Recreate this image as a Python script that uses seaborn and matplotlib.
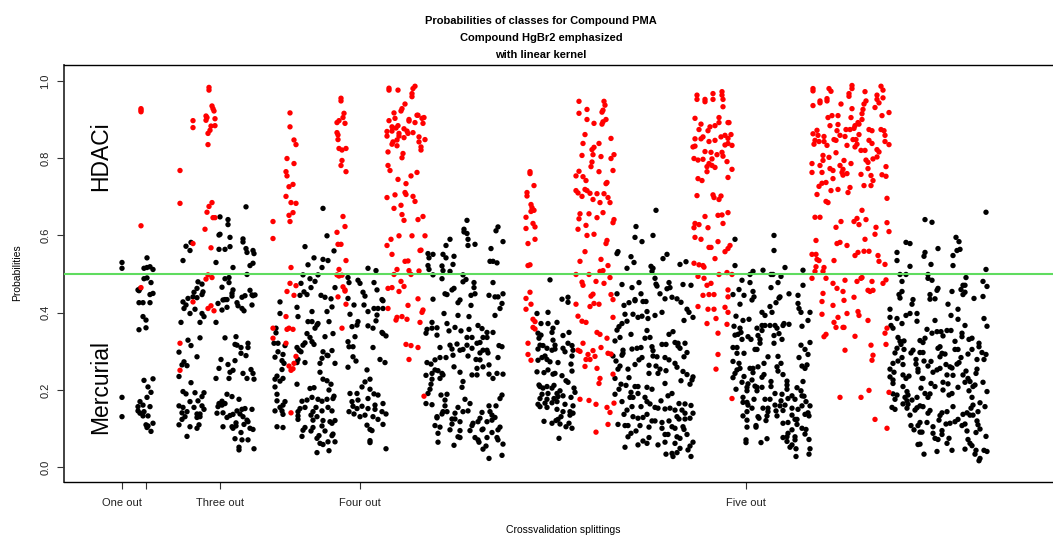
import pandas as pd
import matplotlib
matplotlib.use("Agg")
import matplotlib.pyplot as plt
import seaborn as sns

# jitter position along the split axis, probability
# one and two out
black_one_two = [(122,.530),(122,.515),(122,.181),(122,.131),(147,.542),(144,.515),(147,.517),(150,.519),(153,.512),(144,.488),(147,.490),(151,.478),(138,.459),(140,.462),(150,.447),(153,.450),(139,.457),(139,.426),(143,.426),(150,.426),(143,.390),(146,.381),(139,.356),(146,.361),(144,.225),(153,.229),(148,.208),(151,.194),(147,.181),(140,.170),(138,.157),(143,.161),(150,.157),(138,.146),(144,.144),(140,.140),(143,.133),(148,.133),(146,.110),(148,.107),(153,.114),(147,.103),(151,.093)]
red_one_two = [(141,.928),(141,.924),(141,.920),(141,.625),(141,.465)]

# three out
red_three = [(180,.768),(180,.683),(193,.897),(193,.879),(209,.983),(209,.976),(212,.935),(213,.928),(214,.922),(206,.909),(207,.905),(206,.898),(215,.902),(211,.883),(215,.884),(210,.872),(208,.864),(208,.835),(212,.685),(209,.675),(207,.660),(213,.646),(215,.646),(205,.616),(211,.568),(193,.579),(208,.498),(206,.487),(212,.491),(180,.321),(180,.251),(193,.428),(208,.411),(211,.418),(214,.405)]
black_three = [(183,.535),(186,.572),(190,.561),(191,.582),(220,.648),(228,.641),(228,.628),(220,.603),(219,.601),(230,.595),(243,.591),(243,.583),(246,.674),(230,.571),(219,.564),(225,.564),(246,.566),(247,.556),(253,.561),(254,.553),(216,.530),(253,.528),(250,.522),(233,.517),(247,.499),(225,.488),(229,.491),(229,.478),(222,.466),(233,.459),(232,.450),(232,.443),(250,.458),(245,.444),(242,.440),(253,.444),(225,.434),(198,.480),(202,.474),(197,.463),(194,.453),(203,.454),(202,.447),(193,.441),(197,.439),(188,.437),
    (183,.428),(186,.420),(184,.411),(195,.409),(190,.398),(202,.398),(204,.390),(181,.375),(200,.375),(216,.375),(218,.424),(223,.433),(227,.434),(222,.407),(227,.414),(237,.426),(238,.418),(242,.411),(244,.405),(252,.420),(252,.446),(255,.446),
    (188,.329),(191,.315),(200,.335),(179,.298),(197,.286),(184,.273),(182,.265),(187,.263),(179,.235),(191,.219),(183,.196),(186,.190),(195,.193),(204,.193),(190,.170),(202,.183),(198,.172),(179,.159),(183,.155),(194,.155),(202,.159),(204,.150),(182,.141),(187,.144),(197,.138),(200,.138),(185,.131),(182,.124),(197,.129),(200,.131),(179,.110),(190,.105),(199,.110),(197,.101),(187,.080),
    (225,.335),(236,.338),(235,.318),(237,.316),(248,.321),(241,.310),(248,.310),(241,.295),(246,.289),(221,.279),(235,.276),(228,.266),(219,.256),(251,.253),(233,.251),(230,.246),(243,.243),(253,.243),(216,.230),(229,.230),(247,.230),(254,.228),(227,.189),(232,.183),(239,.176),(222,.171),(219,.165),(225,.165),(218,.157),(222,.161),(245,.152),(242,.150),(252,.150),(237,.146),(217,.140),(223,.141),(233,.137),(230,.134),(227,.129),(240,.138),(243,.131),(247,.122),(248,.118),(244,.111),(236,.115),(223,.105),(232,.105),(236,.107),(233,.101),(241,.090),(250,.101),(253,.098),(235,.074),(242,.071),(248,.071),(239,.052),(239,.045),(254,.048)]

# four out
red_four = [(273,.636),(273,.592),(290,.917),(290,.881),(294,.847),(296,.835),(287,.799),(294,.786),(286,.765),(287,.754),(293,.732),(289,.726),(286,.701),(291,.685),(296,.683),(293,.659),(289,.652),(290,.636),(291,.517),(290,.476),(296,.470),(287,.455),(294,.445),
    (341,.955),(341,.948),(344,.916),(343,.905),(339,.897),(337,.892),(345,.890),(337,.866),(338,.860),(338,.848),(339,.825),(342,.821),(346,.825),(342,.794),(341,.781),(346,.765),(343,.649),(345,.623),(337,.608),(338,.577),(341,.577),(346,.535),(339,.512),(337,.498),(339,.495),(342,.497),(343,.467),(345,.459),(338,.441),
    (345,.456),(346,.422),(286,.390),(273,.360),(287,.357),(289,.360),(293,.357),(273,.334),(286,.321),(342,.360),(296,.287),(289,.262),(294,.269),(293,.255),(291,.251),(291,.141),
    (389,.981),(389,.976),(398,.976),(415,.986),(413,.980),(412,.967),(412,.959),(405,.940),(402,.928),(401,.922),(394,.917),(417,.911),(395,.903),(389,.897),(409,.900),(409,.896),(415,.892),(398,.884),(392,.881),(396,.878),(404,.876),(387,.869),(392,.870),(407,.870),(413,.866),(408,.864),(399,.864),(387,.857),(399,.857),(404,.853),(419,.855),(397,.847),(393,.842),(392,.836),(397,.832),(419,.842),(388,.816),(403,.812),(402,.801),(388,.781),(390,.768),(417,.763),(411,.754),(398,.745),(406,.734),(395,.705),(405,.711),(406,.706),(387,.698),(413,.701),(415,.688),(401,.678),(394,.670),(402,.654),(404,.639),(418,.641),(399,.599),(412,.599),(391,.590),(387,.574),(420,.561),(392,.551),(405,.533),(408,.534),(397,.512),(409,.509),(419,.508),(394,.499),(411,.499),(401,.481),(404,.468),(388,.463),(392,.465),(399,.455),
    (422,.903),(424,.905),(423,.890),(418,.911),(425,.848),(421,.829),(421,.821),(423,.649),(421,.562),(425,.599),(388,.411),(408,.419),(396,.381),(397,.388),(402,.390),(407,.383),(420,.375),(406,.318),(411,.315),(418,.310),(409,.279),(418,.436),(423,.407),(422,.401),(424,.184)]
black_four = [(323,.670),(327,.599),(305,.571),(334,.560),(314,.542),(323,.538),(328,.535),(308,.524),(322,.517),(318,.498),(303,.498),(310,.488),(315,.481),(301,.476),(368,.515),(376,.509),(348,.491),(349,.478),(358,.484),(360,.476),(374,.478),(335,.465),(311,.465),(304,.454),(307,.447),(300,.445),(321,.445),(325,.440),(363,.453),(365,.443),(377,.459),(348,.437),(331,.436),(382,.434),
    (280,.428),(297,.414),(280,.398),(298,.390),(312,.403),(327,.403),(332,.415),(354,.420),(364,.420),(350,.396),(368,.403),(374,.411),(378,.411),(383,.411),(383,.431),(377,.394),(376,.379),(308,.377),(312,.377),(329,.377),(317,.368),(318,.372),(315,.360),(352,.364),(358,.377),(357,.368),(368,.366),(373,.360),(276,.360),(276,.348),(307,.346),(325,.338),(333,.346),(310,.336),(312,.325),(314,.318),(355,.338),(382,.349),(383,.346),(386,.340),(348,.325),(349,.312),(353,.312),(373,.310),(274,.321),(278,.321),(285,.315),(305,.322),(303,.316),(297,.310),(299,.303),(301,.299),(278,.299),(283,.292),(275,.285),(323,.299),(327,.290),(332,.302),(328,.289),(322,.282),(282,.276),(284,.269),(298,.279),(297,.271),(305,.271),(320,.269),(335,.269),(353,.286),(356,.275),(380,.279),(385,.271),(348,.259),(367,.252),(282,.253),(320,.246),(277,.236),(275,.228),(283,.230),(280,.223),(323,.228),(327,.224),(370,.228),(365,.221),(297,.215),(331,.215),(275,.208),(362,.208),(310,.204),(314,.206),(329,.200),(370,.202),
    (277,.189),(350,.191),(357,.191),(374,.190),(378,.187),(334,.184),(333,.178),(277,.172),(302,.171),(307,.174),(312,.181),(318,.176),(322,.171),(327,.176),(352,.170),(358,.174),(368,.178),(285,.170),(283,.161),(383,.165),(375,.161),(353,.158),(357,.152),(280,.155),(300,.152),(305,.155),(316,.155),(328,.155),(362,.158),(368,.152),(275,.146),(282,.146),(298,.144),(313,.144),(322,.146),(332,.146),(349,.144),(354,.138),(375,.150),(382,.144),(386,.138),(283,.137),(298,.133),(311,.135),(317,.131),(360,.131),(365,.135),(373,.131),(298,.124),(313,.122),(323,.121),(330,.118),(335,.121),(378,.124),(383,.111),(277,.105),(283,.103),(305,.103),(322,.107),(332,.114),(367,.109),(370,.098),(303,.096),(311,.094),(325,.094),(372,.095),(333,.086),(313,.103),(302,.080),(319,.082),(317,.075),(332,.082),(370,.069),(370,.064),(328,.066),(335,.066),(320,.062),(323,.059),(386,.048),(329,.043),(317,.038),
    (467,.639),(464,.616),(464,.609),(467,.605),(468,.590),(468,.574),(475,.577),(450,.590),(446,.574),(428,.553),(433,.551),(429,.542),(443,.551),(446,.542),(454,.546),(428,.522),(429,.512),(442,.521),(453,.525),(443,.509),(450,.507),(433,.498),(463,.498),(442,.488),(466,.486),(463,.480),(474,.478),(474,.465),(445,.449),(447,.447),(454,.463),(452,.459),(475,.449),(471,.445),(498,.622),(496,.612),(503,.584),(491,.566),(490,.533),(493,.533),(497,.529),(493,.478),(489,.445),(495,.441),(498,.441),(503,.449),
    (433,.435),(460,.433),(458,.426),(502,.424),(500,.411),(471,.419),(444,.398),(458,.393),(469,.390),(495,.393),(432,.375),(447,.372),(427,.357),(437,.361),(432,.360),(426,.347),(437,.342),(449,.353),(455,.362),(461,.353),(469,.357),(478,.367),(482,.359),(487,.349),(493,.349),(467,.336),(472,.336),(483,.336),(487,.336),(480,.323),(477,.321),(467,.316),(457,.319),(450,.316),(440,.310),(452,.306),(460,.303),(463,.305),(472,.308),(499,.315),(502,.312),(483,.303),(487,.303),(480,.296),(488,.296),(468,.288),(453,.290),(440,.284),(446,.284),(435,.278),(476,.279),(480,.278),(498,.284),(427,.271),(431,.267),(454,.260),(489,.265),(483,.260),(477,.256),(435,.252),(438,.250),(460,.246),(442,.243),(443,.239),(426,.238),(432,.243),(472,.239),(477,.239),(489,.241),(497,.243),(503,.241),(493,.230),(432,.228),(440,.230),(463,.222),(431,.215),(462,.207),(430,.202),(428,.191),(441,.187),(447,.189),(502,.187),(500,.178),(445,.174),(465,.176),(426,.165),(432,.162),(445,.159),(470,.165),(458,.155),(489,.159),(496,.159),(443,.144),(447,.144),(463,.144),(468,.146),(482,.142),(490,.144),(437,.131),(442,.138),(455,.140),(492,.135),(495,.129),(452,.125),(455,.125),(480,.127),(437,.128),(478,.118),(487,.118),(460,.118),(492,.122),(473,.114),(452,.112),(435,.108),(440,.104),(472,.108),(483,.099),(500,.104),(450,.097),(460,.095),(470,.095),(498,.097),(482,.097),(438,.088),(492,.090),(458,.079),(475,.077),(487,.077),(497,.077),(460,.077),(478,.071),(498,.071),(479,.065),(438,.065),(454,.057),(503,.060),(486,.055),(483,.047),(502,.031),(489,.023)]

# five out
red_five_a = [(530,.765),(530,.760),(534,.729),(527,.711),(527,.702),(531,.680),(532,.672),(534,.665),(531,.662),(526,.647),(533,.631),(535,.622),(526,.618),(535,.590),(528,.579),(530,.524),(528,.522),(530,.453),(526,.437),(531,.422),(526,.409),(533,.383),(535,.377),(533,.362),(535,.358),(528,.321),(528,.292),(531,.277),
    (579,.947),(604,.947),(605,.937),(603,.924),(602,.919),(579,.916),(587,.926),(587,.900),(594,.890),(602,.888),(603,.894),(606,.900),(585,.861),(611,.851),(583,.838),(599,.838),(594,.828),(592,.822),(593,.809),(582,.807),(601,.804),(614,.809),(611,.799),(592,.790),(591,.778),(613,.768),(599,.765),(579,.766),(576,.754),(583,.752),(586,.742),(607,.737),(606,.734),(576,.716),(578,.710),(585,.719),(587,.716),(590,.709),(597,.708),(604,.708),(582,.701),(608,.698),(593,.693),(600,.685),(610,.685),(580,.656),(589,.656),(603,.659),(579,.643),(597,.646),(614,.641),(613,.633),(586,.626),(578,.616),(587,.600),(594,.603),(607,.587),(606,.579),(585,.558),(601,.538),(580,.533),(608,.522),(603,.509),(600,.507),(576,.499),(589,.499),(610,.491),(582,.479),(583,.471),(596,.481),(604,.476),(593,.448),(591,.443),(611,.447),(613,.434),
    (576,.422),(590,.416),(594,.424),(599,.422),(578,.391),(582,.378),(586,.375),(613,.388),(597,.349),(600,.344),(607,.334),(583,.321),(601,.310),(578,.303),(580,.300),(588,.292),(593,.302),(595,.287),(608,.295),(611,.293),(586,.279),(590,.279),(585,.261),(597,.256),(613,.241),(600,.230),(599,.217),(580,.176),(589,.173),(596,.163),(614,.166),(607,.155),(610,.142),(608,.111),(596,.091)]
red_five_b = [(697,.963),(697,.952),(705,.952),(705,.946),(713,.967),(713,.952),(722,.972),(722,.963),(723,.952),(723,.933),(719,.905),(719,.892),(695,.903),(701,.888),(715,.884),(710,.881),(699,.874),(708,.871),(728,.892),(695,.850),(703,.855),(701,.850),(709,.843),(715,.846),(721,.855),(725,.859),(728,.851),(725,.834),(728,.838),(695,.831),(693,.829),(705,.817),(711,.815),(717,.809),(722,.815),(723,.805),(694,.799),(698,.795),(703,.797),(712,.798),(727,.791),(709,.786),(707,.778),(712,.781),(715,.776),(707,.765),(728,.750),(698,.747),(702,.742),(697,.703),(713,.705),(714,.698),(721,.702),(719,.693),(705,.649),(718,.652),(722,.653),(695,.631),(694,.620),(699,.628),(708,.620),(723,.631),(695,.595),(701,.590),(718,.584),(709,.569),(711,.569),(725,.558),(715,.540),(694,.528),(699,.524),(703,.522),(704,.518),(727,.504),(719,.499),(698,.494),(704,.489),(711,.476),(707,.471),(703,.445),(709,.447),(714,.447),
    (729,.892),(731,.861),(732,.833),(732,.771),(728,.659),(730,.574),(728,.566),(732,.499),(728,.459),(698,.416),(708,.409),(714,.409),(728,.441),(725,.414),(728,.401),(716,.385),(707,.372),(727,.370),(718,.347),(718,.292),(716,.254),(732,.178)]
red_five_c = [(813,.980),(813,.974),(829,.980),(831,.973),(852,.988),(852,.980),(881,.986),(883,.976),(865,.972),(849,.967),(849,.960),(877,.963),(827,.954),(827,.948),(820,.948),(820,.943),(883,.956),(877,.952),(879,.943),(866,.948),(864,.940),(813,.936),(841,.940),(875,.931),(852,.928),(863,.926),(862,.915),(889,.918),(882,.910),(828,.905),(832,.910),(838,.910),(851,.905),(862,.900),(858,.892),(855,.884),(830,.884),(838,.887),(859,.888),(817,.872),(813,.863),(818,.859),(837,.871),(846,.874),(850,.874),(854,.877),(869,.874),(872,.871),(881,.874),(884,.871),(824,.856),(840,.859),(845,.856),(859,.861),(885,.859),(815,.846),(819,.843),(824,.843),(834,.848),(836,.846),(853,.848),(856,.848),(869,.846),(885,.843),(814,.836),(827,.833),(847,.833),(855,.829),(857,.836),(872,.838),(889,.835),(861,.820),(865,.820),(836,.814),(877,.822),(879,.816),(823,.807),(829,.802),(877,.803),(873,.798),(823,.794),(844,.794),(866,.795),(868,.789),(812,.786),(820,.781),(851,.786),(840,.781),(886,.778),(868,.773),(830,.773),(833,.768),(843,.771),(822,.763),(812,.763),(842,.763),(843,.756),(847,.760),(861,.758),(871,.755),(882,.757),(886,.753),(833,.747),(873,.742),(826,.737),(822,.735),(819,.727),(864,.729),(871,.729),(850,.724),(831,.716),(838,.719),(848,.711),(817,.706),(887,.696),(826,.688),(828,.685),
    (862,.665),(815,.647),(820,.647),(857,.644),(866,.641),(841,.636),(854,.636),(859,.628),(887,.633),(836,.621),(876,.621),(889,.610),(875,.603),(865,.590),(816,.587),(840,.582),(837,.579),(847,.574),(858,.556),(855,.548),(864,.559),(869,.559),(812,.551),(816,.551),(878,.548),(817,.538),(819,.535),(834,.535),(879,.533),(885,.525),(816,.519),(824,.517),(815,.507),(823,.507),(812,.489),(826,.489),(862,.491),(861,.489),(845,.484),(857,.481),(872,.481),(886,.485),(883,.476),(833,.476),(837,.463),(843,.455),(868,.458),(870,.455),(873,.458),(823,.450),
    (822,.429),(844,.432),(854,.440),(833,.419),(822,.396),(847,.398),(858,.403),(859,.393),(838,.388),(868,.380),(834,.375),(836,.362),(843,.362),(844,.362),(826,.344),(824,.338),(855,.339),(871,.316),(886,.318),(885,.347),(887,.360),(845,.303),(873,.290),(872,.277),(869,.199),(840,.181),(861,.181),(889,.194),(875,.124),(887,.101)]
black_five_a = [(550,.485),(562,.435),(568,.440),(568,.427),(537,.398),(548,.401),(541,.372),(548,.372),(557,.375),(553,.360),(538,.347),(541,.342),(552,.349),(563,.341),(569,.349),(539,.334),(553,.329),(555,.316),(563,.308),(568,.321),(540,.316),(543,.315),(538,.306),(547,.308),(552,.303),(555,.306),(572,.315),(565,.299),(573,.303),(542,.284),(545,.288),(547,.279),(572,.288),(538,.277),(550,.273),(558,.271),(571,.267),(537,.247),(544,.245),(548,.252),(553,.241),(555,.243),(572,.249),(562,.237),(566,.224),(568,.220),(539,.213),(540,.209),(547,.209),(554,.212),(543,.205),(552,.205),(574,.205),(560,.198),(548,.191),(557,.191),(542,.189),(575,.194),(540,.178),(547,.176),(554,.178),(558,.183),(563,.185),(545,.166),(538,.163),(552,.167),(557,.170),(571,.181),(540,.157),(547,.155),(565,.163),(557,.150),(573,.159),(563,.144),(570,.144),(573,.140),(561,.131),(570,.135),(558,.124),(544,.119),(552,.114),(556,.121),(560,.112),(569,.114),(566,.105),(572,.101),(559,.075)]
black_five_b = [(656,.665),(636,.623),(635,.595),(653,.600),(642,.584),(618,.558),(617,.553),(631,.545),(667,.551),(663,.540),(634,.530),(680,.525),(686,.532),(651,.520),(653,.515),(627,.515),(652,.507),(655,.489),(622,.473),(639,.478),(656,.474),(657,.469),(669,.478),(683,.473),(691,.471),(632,.465),(667,.462),(670,.465),(641,.449),(617,.449),(660,.449),(672,.440),(665,.436),(677,.436),(635,.434),
    (681,.427),(624,.419),(629,.426),(635,.431),(643,.429),(646,.429),(687,.409),(689,.401),(647,.403),(662,.401),(625,.396),(633,.396),(655,.393),(638,.388),(642,.391),(648,.385),(693,.388),(684,.380),(627,.378),(622,.372),(619,.364),(617,.355),(647,.354),(673,.351),(669,.344),(631,.344),(645,.334),(650,.336),(620,.336),(615,.327),(662,.318),(666,.318),(675,.323),(678,.321),(685,.321),(678,.314),(632,.306),(637,.308),(641,.310),(652,.312),(623,.303),(623,.295),(653,.302),(680,.308),(687,.297),(613,.288),(622,.290),(653,.288),(657,.286),(665,.284),(669,.278),(684,.286),(616,.275),(642,.284),(639,.278),(635,.266),(649,.264),(656,.262),(675,.269),(677,.259),(620,.262),(628,.254),(618,.254),(660,.254),(666,.250),(649,.243),(658,.243),(683,.248),(687,.240),(693,.234),(615,.230),(629,.232),(681,.224),(692,.226),(690,.215),(665,.217),(621,.215),(626,.212),(635,.209),(638,.209),(647,.207),(652,.202),(619,.202),(631,.194),(638,.191),(615,.189),(645,.181),(672,.191),(668,.185),(630,.181),(633,.181),(661,.172),(622,.170),(647,.170),(650,.164),(679,.165),(685,.164),(691,.160),(632,.157),(641,.157),(655,.155),(658,.153),(665,.151),(670,.153),(675,.148),(682,.148),(627,.148),(693,.140),(624,.137),(685,.140),(633,.131),(647,.137),(643,.129),(677,.131),(679,.125),(638,.127),(685,.125),(690,.127),(652,.120),(655,.120),(662,.116),(669,.120),(618,.111),(625,.108),(628,.108),(640,.108),(649,.104),(662,.101),(672,.105),(675,.101),(683,.105),(636,.094),(684,.098),(631,.088),(665,.085),(668,.085),(687,.085),(628,.079),(649,.077),(677,.079),(680,.075),(643,.068),(647,.062),(638,.058),(658,.058),(665,.065),(675,.062),(693,.065),(690,.055),(625,.052),(680,.049),(688,.045),(666,.034),(672,.036),(677,.038),(673,.028),(691,.028)]
black_five_c = [(735,.590),(774,.600),(774,.561),(735,.522),(785,.517),(763,.510),(753,.507),(750,.499),(771,.499),(773,.499),(803,.510),(781,.494),(742,.484),(750,.478),(778,.478),(803,.471),(739,.460),(771,.465),(753,.455),(733,.447),(744,.445),(754,.441),(789,.449),(798,.445),(780,.441),(779,.438),
    (752,.433),(776,.426),(798,.424),(740,.422),(770,.416),(799,.411),(801,.401),(810,.401),(762,.401),(765,.393),(772,.401),(736,.391),(743,.380),(749,.383),(808,.380),(734,.365),(740,.360),(762,.367),(765,.367),(770,.367),(775,.367),(784,.372),(789,.370),(783,.367),(802,.365),(757,.360),(777,.360),(741,.349),(762,.354),(735,.342),(738,.344),(758,.341),(774,.341),(779,.346),(748,.338),(742,.331),(751,.331),(760,.331),(782,.331),(810,.323),(774,.321),(760,.321),(801,.316),(733,.310),(737,.310),(805,.305),(737,.295),(744,.295),(755,.305),(757,.305),(808,.292),(768,.286),(778,.287),(799,.284),(733,.274),(764,.269),(781,.269),(739,.269),(777,.260),(802,.262),(805,.256),(807,.265),(750,.256),(753,.256),(758,.260),(737,.252),(740,.256),(753,.245),(778,.249),(735,.243),(783,.240),(764,.240),(744,.235),(733,.232),(762,.233),(752,.226),(787,.223),(803,.222),(742,.220),(771,.222),(748,.216),(755,.210),(771,.209),(787,.213),(757,.207),(762,.207),(747,.207),(787,.202),(797,.206),(736,.202),(747,.198),(757,.198),(801,.198),(775,.191),(782,.189),(792,.185),(802,.185),(804,.184),(743,.181),(765,.176),(770,.176),(754,.176),(788,.178),(795,.176),(781,.172),(806,.170),(743,.168),(747,.168),(748,.161),(785,.161),(780,.159),(775,.161),(810,.159),(752,.153),(763,.153),(768,.153),(792,.153),(798,.150),(802,.159),(776,.146),(783,.147),(747,.144),(768,.144),(805,.137),(808,.141),(743,.133),(767,.133),(777,.133),(792,.135),(809,.133),(758,.131),(797,.124),(747,.122),(759,.127),(766,.121),(795,.124),(783,.114),(788,.116),(797,.111),(756,.108),(747,.104),(756,.104),(802,.101),(792,.097),(806,.098),(788,.088),(805,.086),(795,.079),(783,.077),(787,.079),(809,.072),(767,.074),(746,.071),(746,.064),(761,.064),(787,.067),(795,.071),(792,.058),(790,.052),(796,.048),(810,.048),(809,.034),(796,.028)]
black_five_d = [(986,.660),(925,.641),(932,.634),(956,.595),(959,.584),(906,.582),(910,.579),(938,.566),(960,.564),(957,.561),(897,.556),(925,.556),(924,.546),(953,.548),(897,.535),(931,.525),(953,.522),(910,.520),(986,.512),(900,.499),(906,.499),(928,.499),(928,.489),(932,.484),(966,.491),(902,.481),(983,.481),(987,.468),(965,.471),(963,.471),(938,.463),(937,.458),(961,.460),(952,.455),(902,.455),(899,.447),(930,.447),(965,.453),(963,.447),(983,.442),(974,.437),(935,.436),(900,.438),(913,.434),
    (930,.435),(912,.422),(948,.422),(890,.409),(958,.409),(910,.398),(917,.398),(906,.393),(890,.388),(897,.385),(951,.393),(984,.385),(935,.380),(958,.383),(917,.378),(902,.372),(891,.367),(965,.367),(987,.365),(893,.360),(927,.357),(932,.347),(937,.351),(941,.351),(947,.354),(951,.354),(962,.347),(943,.340),(962,.338),(898,.336),(925,.334),(972,.334),(969,.331),(920,.328),(900,.326),(904,.327),(955,.326),(923,.323),(979,.321),(901,.318),(979,.312),(897,.308),(940,.312),(904,.305),(938,.308),(913,.303),(955,.305),(958,.305),(972,.305),(982,.297),(895,.296),(920,.297),(923,.297),(911,.296),(942,.295),(945,.293),(968,.293),(986,.292),(940,.286),(902,.284),(961,.284),(916,.279),(977,.279),(984,.279),(898,.275),(924,.275),(931,.274),(893,.269),(903,.266),(916,.267),(946,.266),(957,.267),(959,.271),(928,.262),(950,.260),(952,.257),(918,.254),(940,.256),(937,.252),(890,.254),(977,.254),(933,.246),(976,.243),(894,.246),(966,.249),(918,.247),(947,.239),(953,.238),(963,.239),(903,.239),(909,.236),(906,.230),(890,.234),(922,.230),(923,.230),(968,.230),(893,.226),(943,.220),(948,.216),(983,.220),(965,.220),(970,.222),(893,.217),(931,.217),(975,.213),(973,.209),(935,.209),(903,.209),(921,.205),(943,.200),(958,.207),(907,.196),(969,.198),(987,.196),(952,.191),(949,.187),(925,.191),(930,.190),(893,.190),(897,.187),(908,.187),(928,.181),(917,.181),(905,.181),(907,.172),(912,.174),(972,.181),(895,.176),(903,.164),(908,.163),(980,.167),(973,.161),(920,.159),(923,.157),(985,.157),(953,.157),(917,.154),(892,.155),(971,.153),(895,.150),(907,.153),(915,.148),(930,.147),(978,.144),(947,.144),(942,.141),(967,.141),(963,.137),(928,.140),(940,.134),(910,.135),(970,.135),(973,.135),(939,.122),(958,.124),(955,.118),(977,.120),(920,.116),(950,.114),(946,.112),(927,.116),(965,.112),(918,.108),(962,.108),(911,.108),(933,.105),(978,.110),(914,.097),(980,.099),(920,.091),(922,.091),(967,.094),(942,.095),(933,.088),(976,.090),(942,.085),(986,.080),(935,.075),(938,.072),(949,.075),(968,.072),(970,.062),(972,.056),(947,.062),(920,.060),(918,.059),(924,.034),(937,.041),(952,.044),(965,.047),(976,.044),(975,.034),(984,.044),(987,.041),(980,.023),(979,.017)]

split_ticks = [122, 146, 220, 360, 746]
split_labels = ["One out", "", "Three out", "Four out", "Five out"]
prob_ticks = [0.0, 0.2, 0.4, 0.6, 0.8, 1.0]
title_lines = "Probabilities of classes for Compound PMA\nCompound HgBr2 emphasized\nwith linear kernel"

black = black_one_two + black_three + black_four + black_five_a + black_five_b + black_five_c + black_five_d
red = red_one_two + red_three + red_four + red_five_a + red_five_b + red_five_c
df = pd.DataFrame(black + red, columns=["split", "prob"])
df["group"] = ["other"] * len(black) + ["HgBr2"] * len(red)

sns.set_style("white")
plt.rcParams["font.family"] = ["Liberation Sans", "DejaVu Sans"]
plt.rcParams["text.color"] = "black"

fig = plt.figure(figsize=(10.53, 5.36), dpi=100)
ax = fig.add_axes([64 / 1053, 1 - 482 / 536, 989 / 1053, 417 / 536])

sns.scatterplot(data=df, x="split", y="prob", hue="group",
                palette={"other": "black", "HgBr2": "#ff0000"},
                s=15, linewidth=0, legend=False, ax=ax, zorder=3)
ax.axhline(0.5, color="#5fdc5f", lw=1.5, zorder=4)

ax.set_xlim(64, 1053)
ax.set_ylim(-0.038, 1.041)
ax.set_xticks(split_ticks)
ax.set_xticklabels(split_labels)
ax.set_yticks(prob_ticks)
ax.set_yticklabels([f"{v:.1f}" for v in prob_ticks], rotation=90, va="center")
ax.tick_params(axis="both", length=5.3, width=0.8, labelsize=8, color="#333333",
               labelcolor="#222222", bottom=True, left=True)
ax.tick_params(axis="x", pad=6.5)
ax.tick_params(axis="y", pad=4.5)
ax.set_xlabel("")
ax.set_ylabel("")

ax.spines["right"].set_visible(False)
for name in ["left", "bottom", "top"]:
    ax.spines[name].set_color("black")
    ax.spines[name].set_linewidth(1.0)
ax.spines["left"].set_color("#333333")
ax.spines["left"].set_linewidth(1.3)

ax.text(101, 0.805, "HDACi", rotation=90, fontsize=16.5, ha="center", va="center")
ax.text(101, 0.207, "Mercurial", rotation=90, fontsize=16.5, ha="center", va="center")

fig.text(541 / 1053, 1 - 38 / 536, title_lines, fontsize=8, fontweight="bold",
         ha="center", va="center", linespacing=1.85)
fig.text(563 / 1053, 1 - 530 / 536, "Crossvalidation splittings", fontsize=7.5, ha="center", va="center")
fig.text(17 / 1053, 1 - 273 / 536, "Probabilities", fontsize=7.5, rotation=90, ha="center", va="center")

fig.savefig("out.png", dpi=100)
